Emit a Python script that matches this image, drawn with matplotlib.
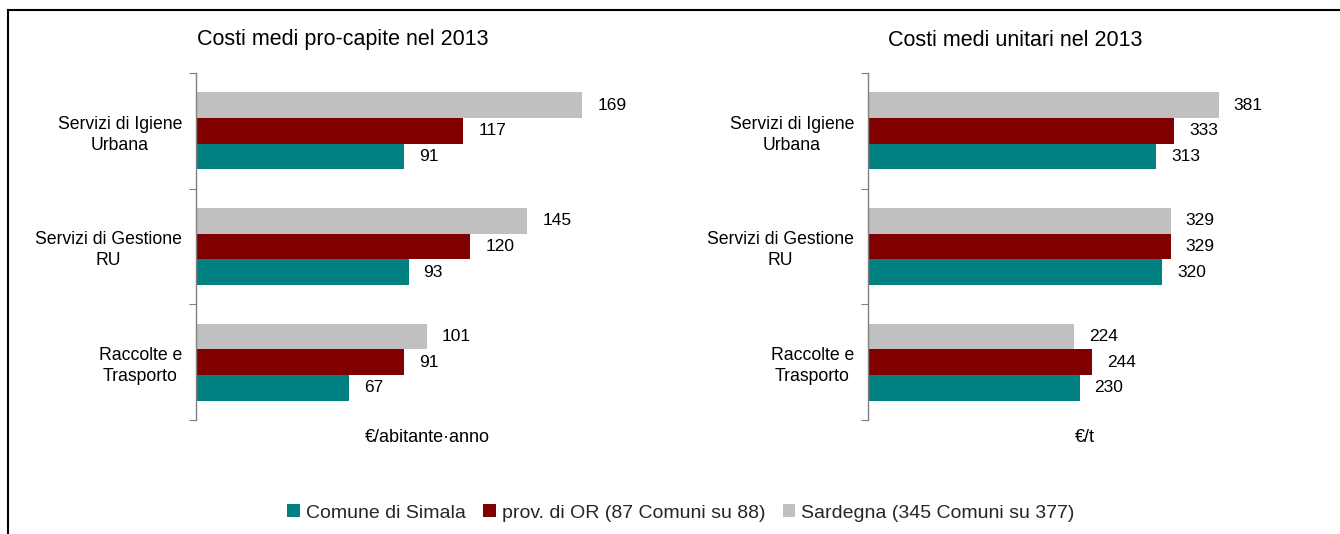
import matplotlib
matplotlib.use("Agg")
import matplotlib.pyplot as plt
from matplotlib.lines import Line2D
from matplotlib.patches import Patch
import numpy as np

plt.rcParams['font.family'] = ['Liberation Sans', 'DejaVu Sans']

categories = ["Servizi di Igiene\nUrbana", "Servizi di Gestione\nRU", "Raccolte e\nTrasporto"]
series_names = ["Comune di Simala", "prov. di OR (87 Comuni su 88)", "Sardegna (345 Comuni su 377)"]
colors = ["#008080", "#800000", "#C0C0C0"]

procapite_simala = [91, 93, 67]
procapite_prov = [117, 120, 91]
procapite_sard = [169, 145, 101]

unitari_simala = [313, 320, 230]
unitari_prov = [333, 329, 244]
unitari_sard = [381, 329, 224]

W, H = 1340, 534
fig = plt.figure(figsize=(W / 100, H / 100), dpi=100)


def px_axes(left, top, width, height):
    return fig.add_axes([left / W, 1 - (top + height) / H, width / W, height / H])


def draw_panel(ax, simala, prov, sard, xmax, title, unit, title_x, unit_x):
    n = len(categories)
    y = np.arange(n)
    bh = 0.222
    data = [sard, prov, simala]
    cols = [colors[2], colors[1], colors[0]]
    offs = [-bh, 0, bh]
    for vals, c, o in zip(data, cols, offs):
        bars = ax.barh(y + o, vals, height=bh, color=c, edgecolor='none')
        for b, v in zip(bars, vals):
            ax.annotate(f"{v}", (v, b.get_y() + b.get_height() / 2),
                        xytext=(15, 0), textcoords='offset pixels',
                        va='center', ha='left', fontsize=12.5, color='black')
    ax.set_ylim(n - 0.5, -0.5)
    ax.set_xlim(0, xmax)
    ax.set_yticks(np.arange(-0.5, n, 1.0))
    ax.set_yticklabels([])
    ax.set_yticks(y, minor=True)
    ax.set_yticklabels(categories, minor=True, fontsize=12.7, linespacing=1.3,
                       multialignment='center')
    ax.tick_params(axis='y', which='minor', length=0, pad=10)
    ax.tick_params(axis='y', which='major', length=5, color='#808080', direction='out')
    ax.set_xticks([])
    for s in ['top', 'right', 'bottom']:
        ax.spines[s].set_visible(False)
    ax.spines['left'].set_color('#808080')
    ax.spines['left'].set_linewidth(1.0)
    fig.text(title_x / W, 1 - 40 / H, title, ha='center', va='center', fontsize=15.5)
    fig.text(unit_x / W, 1 - 437 / H, unit, ha='center', va='center', fontsize=13)


ax1 = px_axes(196, 73, 457, 347)
draw_panel(ax1, procapite_simala, procapite_prov, procapite_sard, 200,
           "Costi medi pro-capite nel 2013", "€/abitante·anno", 343, 427)

ax2 = px_axes(868, 73, 368, 347)
draw_panel(ax2, unitari_simala, unitari_prov, unitari_sard, 400,
           "Costi medi unitari nel 2013", "€/t", 1015, 1085)

handles = [Patch(facecolor=c, edgecolor='none') for c in colors]
fig.legend(handles, series_names, loc='center', bbox_to_anchor=(681 / W, 1 - 513 / H),
           ncol=3, frameon=False, fontsize=14, handlelength=0.65, handleheight=0.65,
           handletextpad=0.3, columnspacing=0.9, labelcolor='#262626')

# outer frame lines (top and left)
fig.add_artist(Line2D([8 / W, 1.0], [1 - 10 / H, 1 - 10 / H], color='black', lw=1.5,
                      transform=fig.transFigure))
fig.add_artist(Line2D([8 / W, 8 / W], [0, 1 - 10 / H], color='black', lw=1.5,
                      transform=fig.transFigure))

fig.savefig("out.png", dpi=100, facecolor='white')
